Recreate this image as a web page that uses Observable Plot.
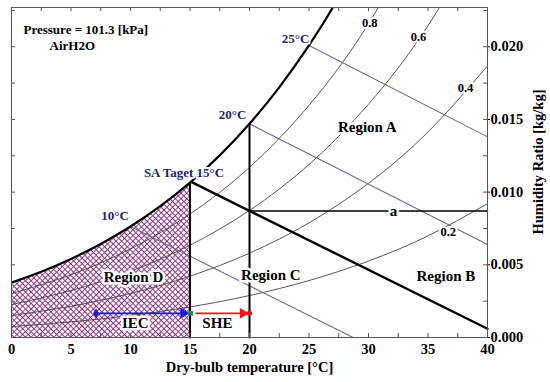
<!DOCTYPE html>
<html>
<head>
<meta charset="utf-8">
<script src="https://cdn.jsdelivr.net/npm/d3@7"></script>
<script src="https://cdn.jsdelivr.net/npm/@observablehq/plot@0.6"></script>
<style>
  html, body { margin: 0; padding: 0; background: #fff; }
  #chart svg, #chart svg text { font-family: "Liberation Serif", "Times New Roman", serif; font-weight: bold; }
</style>
</head>
<body>
<div id="chart"></div>
<script>
// Saturation curve (RH = 1.0), dry-bulb °C vs humidity ratio kg/kg
const satT = [0, 2.5, 5, 7.5, 10, 12.5, 15, 17.5, 20, 22.5, 25, 27.5, 30];
const satW = [0.003776, 0.004525, 0.005404, 0.006434, 0.007634, 0.009031, 0.010653, 0.012530, 0.014703, 0.017209, 0.020091, 0.023403, 0.027217];

// Relative humidity curves
const rhT = [0, 5, 10, 15, 20, 25, 30, 35, 40];
const rh08 = [0.003017, 0.004316, 0.006092, 0.008493, 0.011707, 0.015970, 0.021584, 0.028937];
const rh06 = [0.002260, 0.003231, 0.004558, 0.006348, 0.008739, 0.011901, 0.016049, 0.021453, 0.028451];
const rh04 = [0.001505, 0.002151, 0.003031, 0.004218, 0.005799, 0.007884, 0.010608, 0.014140, 0.018683];
const rh02 = [0.000751, 0.001073, 0.001512, 0.002102, 0.002886, 0.003917, 0.005259, 0.006990, 0.009203];
const rhLabels = ["0.8", "0.6", "0.4", "0.2"];
const rhLabelT = [30.1, 34.2, 38.15, 36.7];
const rhLabelW = [0.02166, 0.02069, 0.01717, 0.00724];

// Wet-bulb lines (start and end points)
const wb25 = [[25, 0.020091], [40, 0.0138]];
const wb20 = [[20, 0.014703], [40, 0.0064]];
const wb10 = [[10, 0.007634], [28.7, 0]];
const wb15 = [[15.1, 0.01070], [40, 0.0006]];   // SA target line (bold)

// Process lines
const v15 = [[15, 0], [15, 0.01065]];
const v20 = [[20, 0], [20, 0.014703]];
const hA = [[20, 0.0087], [40, 0.0087]];

// Process arrows
const procW = 0.00166;
const iecStart = 7.1, iecEnd = 14.45;
const sheStart = 15.5, sheEnd = 19.45;
const greenT = 15.05, redT = 20;

// Labels
const tempLabels = ["25°C", "20°C", "SA Taget 15°C", "10°C"];
const tempLabelT = [23.87, 18.57, 14.5, 8.7];
const tempLabelW = [0.02055, 0.0153, 0.01131, 0.00834];
const regionLabels = ["Region A", "Region B", "Region C", "Region D", "IEC", "SHE", "a"];
const regionLabelT = [29.9, 36.5, 21.8, 10.25, 10.4, 17.3, 32.1];
const regionLabelW = [0.01448, 0.0042, 0.00428, 0.00414, 0.00097, 0.00097, 0.00869];

// Ticks
const xTicks = [0, 5, 10, 15, 20, 25, 30, 35, 40];
const xMinor = [0, 2.5, 5, 7.5, 10, 12.5, 15, 17.5, 20, 22.5, 25, 27.5, 30, 32.5, 35, 37.5, 40];
const yTicks = [0, 0.005, 0.010, 0.015, 0.020];
const yMinor = [0, 0.0025, 0.005, 0.0075, 0.010, 0.0125, 0.015, 0.0175, 0.020, 0.0225];

const sat = satT.map((t, i) => ({t, w: satW[i]}));
const satD = sat.filter(d => d.t <= 15);
const mk = (arr) => arr.map((w, i) => ({t: rhT[i], w}));
const rhSeries = [mk(rh08), mk(rh06), mk(rh04), mk(rh02)];
const rhLab = rhLabels.map((s, i) => ({s, t: rhLabelT[i], w: rhLabelW[i]}));
const tempLab = tempLabels.map((s, i) => ({s, t: tempLabelT[i], w: tempLabelW[i]}));
const regLab = regionLabels.map((s, i) => ({s, t: regionLabelT[i], w: regionLabelW[i]}));

const W = 550, H = 382;
const mL = 11, mR = 63, mT = 7, mB = 45;
const pw = W - mL - mR, ph = H - mT - mB;
const slate = "#6868a0";
const navy = "#1c2578";
const FF = "Liberation Serif";

const svg = Plot.plot({
  width: W, height: H,
  marginLeft: mL, marginRight: mR, marginTop: mT, marginBottom: mB,
  style: {fontFamily: FF, fontWeight: "bold", fontSize: "14px", background: "#fff"},
  x: {domain: [0, 40]},
  y: {domain: [0, 0.0227]},
  marks: [
    Plot.areaY(satD, {x: "t", y: "w", fill: "url(#xhatch)", curve: "natural"}),
    ...rhSeries.map(s => Plot.line(s, {x: "t", y: "w", stroke: "#444", strokeWidth: 0.9, curve: "natural", clip: true})),
    Plot.line(wb25, {x: d => d[0], y: d => d[1], stroke: slate, strokeWidth: 1.1}),
    Plot.line(wb20, {x: d => d[0], y: d => d[1], stroke: slate, strokeWidth: 1.1}),
    Plot.line(wb10, {x: d => d[0], y: d => d[1], stroke: slate, strokeWidth: 1.1}),
    Plot.line(hA, {x: d => d[0], y: d => d[1], stroke: "#000", strokeWidth: 1.6}),
    Plot.line(v15, {x: d => d[0], y: d => d[1], stroke: "#000", strokeWidth: 2}),
    Plot.line(v20, {x: d => d[0], y: d => d[1], stroke: "#000", strokeWidth: 2}),
    Plot.line(wb15, {x: d => d[0], y: d => d[1], stroke: "#000", strokeWidth: 2.4}),
    Plot.line(sat, {x: "t", y: "w", stroke: "#000", strokeWidth: 2.2, curve: "natural", clip: true}),
    // process arrows
    Plot.ruleY([procW], {x1: iecStart, x2: iecEnd, stroke: "#1a1ae6", strokeWidth: 1.8}),
    Plot.dot([iecEnd], {x: d => d, y: procW, symbol: "triangle", rotate: 90, r: 4, fill: "#1a1ae6"}),
    Plot.dot([iecStart], {x: d => d, y: procW, symbol: "diamond", r: 3, fill: "#1a1ae6"}),
    Plot.ruleY([procW], {x1: sheStart, x2: sheEnd, stroke: "#ff1010", strokeWidth: 1.8}),
    Plot.dot([sheEnd], {x: d => d, y: procW, symbol: "triangle", rotate: 90, r: 4, fill: "#ff1010"}),
    Plot.dot([redT], {x: d => d, y: procW, r: 2.6, fill: "#ff1010"}),
    Plot.dot([greenT], {x: d => d, y: procW, symbol: "square", r: 2.6, fill: "#1e8a3c"}),
    // labels
    Plot.text(rhLab, {x: "t", y: "w", text: "s", fill: "#000", stroke: "#fff", strokeWidth: 4, fontSize: 12.5, fontFamily: FF, fontWeight: "bold"}),
    Plot.text(tempLab, {x: "t", y: "w", text: "s", fill: navy, stroke: "#fff", strokeWidth: 4, fontSize: 13, fontFamily: FF, fontWeight: "bold"}),
    Plot.text(regLab, {x: "t", y: "w", text: "s", fill: "#000", stroke: "#fff", strokeWidth: 5, fontSize: 15, fontFamily: FF, fontWeight: "bold"}),
    Plot.text(["Pressure = 101.3 [kPa]"], {frameAnchor: "top-left", dx: 12, dy: 17, textAnchor: "start", fontSize: 13, fontFamily: FF, fontWeight: "bold"}),
    Plot.text(["AirH2O"], {frameAnchor: "top-left", dx: 38, dy: 33, textAnchor: "start", fontSize: 13, fontFamily: FF, fontWeight: "bold"}),
    // frame ticks (inward)
    Plot.ruleX(xMinor, {x: d => d, insetTop: ph - 4, stroke: "#555"}),
    Plot.ruleX(xMinor, {x: d => d, insetBottom: ph - 4, stroke: "#555"}),
    Plot.ruleY(yMinor, {y: d => d, insetRight: pw - 4, stroke: "#555"}),
    Plot.ruleY(yMinor, {y: d => d, insetLeft: pw - 4, stroke: "#555"}),
    Plot.frame({stroke: "#555", strokeWidth: 1}),
    Plot.axisX({ticks: xTicks, tickSize: 0, tickPadding: 6, label: null, fontSize: 14.5, fontWeight: "bold", fontFamily: FF}),
    Plot.axisY({anchor: "right", ticks: yTicks, tickSize: 2, tickPadding: 1, tickFormat: d3.format(".3f"), label: null, fontSize: 14.5, fontWeight: "bold", fontFamily: FF}),
    Plot.text(["Dry-bulb temperature [°C]"], {frameAnchor: "bottom", dy: 34, fontSize: 14.5, fontFamily: FF, fontWeight: "bold"}),
    Plot.text(["Humidity Ratio [kg/kg]"], {x: 40, y: 0.01207, dx: 51, rotate: -90, fontSize: 14.5, fontFamily: FF, fontWeight: "bold"})
  ]
});

const ns = "http://www.w3.org/2000/svg";
const defs = document.createElementNS(ns, "defs");
defs.innerHTML = `<pattern id="xhatch" patternUnits="userSpaceOnUse" width="4" height="4" patternTransform="rotate(45)">
  <rect width="4" height="4" fill="#fff"></rect>
  <path d="M0,0 H4 M0,0 V4" stroke="#8a3080" stroke-width="1.8"></path>
</pattern>`;
svg.insertBefore(defs, svg.firstChild);
document.getElementById("chart").appendChild(svg);
</script>
</body>
</html>
